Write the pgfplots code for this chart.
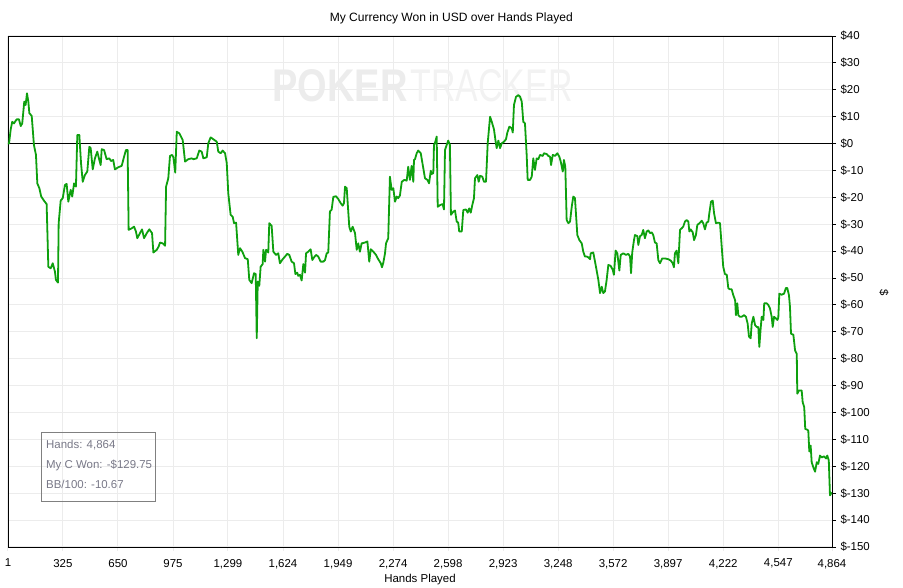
\documentclass[border=0pt]{standalone}
\usepackage{pgfplots}
\usepackage{pgfplotstable}
\pgfplotsset{compat=1.18}
\usepackage{fontspec}
\setmainfont{Liberation Sans}
\definecolor{pgreen}{RGB}{14,160,14}
\definecolor{gridc}{RGB}{236,236,236}
\definecolor{boxgray}{RGB}{128,128,128}
\definecolor{txtgray}{RGB}{120,120,135}
\definecolor{wm1}{RGB}{236,236,236}
\definecolor{wm2}{RGB}{242,242,242}

\pgfplotstableread{
h v
1 0
7 0
17 5.3
26 8.1
36 7.5
52 9
66 9
76 6.5
85 7.5
97 15.6
105 14.3
113 18.7
121 15.6
127 11.3
141 10.3
154 -0.5
166 -4.2
174 -14.8
186 -16.6
197 -19.7
213 -21.2
229 -22.5
239 -45.8
253 -46.4
265 -44.5
278 -47.6
284 -50.7
296 -51.7
300 -29.6
312 -21.2
324 -20.3
337 -15.4
347 -15
357 -21.6
371 -17.2
380 -19.7
391 -14.8
402 -16
410 3.2
422 3.2
432 -7.3
442 -14.2
455 -11.7
469 -10.4
481 -1.2
489 -1.7
501 -9.6
514 -5.5
528 -3
540 -6.1
548 -8
554 -2.1
568 -2.4
583 -5.8
599 -5.5
609 -6.5
622 -6.1
632 -9.6
652 -8.8
672 -8.3
686 -4.9
697 -2.4
707 -2.4
713 -32.1
731 -31.5
745 -30.9
756 -32.7
764 -35.2
780 -33.3
792 -31.9
804 -35.2
820 -33.3
835 -31.9
851 -33.3
859 -40.5
879 -39.5
890 -38.3
898 -36.8
914 -37.1
928 -38
934 -16
947 -12.9
957 -4.6
969 -4.2
977 -5.1
988 -10.8
997 4.4
1012 3.8
1032 1.3
1046 -6.7
1065 -5.8
1085 -5.5
1095 -5.8
1115 -5.5
1130 -2.6
1144 -3
1154 -5.5
1174 -5.1
1183 0.1
1197 2.3
1213 1.6
1233 0.7
1242 -3
1256 -3.6
1268 -2.6
1282 -3.6
1292 -7.3
1301 -18.5
1315 -26.5
1327 -27.2
1335 -29.6
1347 -29.4
1360 -41.4
1370 -38.9
1384 -40.2
1400 -42.6
1416 -43
1425 -50.7
1439 -51.9
1453 -48.2
1463 -48.5
1469 -72.4
1475 -51.3
1484 -52.9
1492 -45.8
1504 -44.8
1508 -39.5
1518 -43.9
1524 -39.5
1537 -40.5
1543 -29.6
1557 -30.6
1567 -40.2
1583 -41.4
1596 -40.8
1606 -44.5
1622 -43
1636 -42
1649 -41
1661 -41.4
1675 -43.9
1689 -44.5
1697 -48.5
1708 -48
1714 -49.2
1724 -48.8
1734 -50.9
1744 -44.8
1754 -48
1760 -40.8
1773 -40.2
1787 -39.3
1797 -43.3
1807 -42.3
1819 -41.4
1832 -42
1846 -43.9
1862 -43.9
1872 -43.3
1882 -40.8
1891 -40.5
1901 -25.2
1911 -24.6
1921 -19.8
1937 -19.6
1950 -20.6
1964 -22.1
1976 -23.1
1984 -22.1
1990 -16
2000 -16.6
2015 -30.9
2024 -32.7
2035 -30.9
2049 -33.3
2059 -39.5
2068 -37.1
2078 -40.2
2088 -37.1
2108 -36.8
2122 -36.4
2133 -43.9
2142 -39.3
2157 -40.2
2173 -41.4
2186 -43
2201 -44.5
2208 -46
2216 -44.3
2226 -40.8
2232 -37.1
2245 -35.2
2255 -12.3
2265 -17.2
2275 -16.6
2285 -21.6
2295 -19.7
2304 -20.3
2314 -19.3
2325 -14.2
2340 -13.5
2354 -13.8
2363 -8.6
2373 -13.5
2383 -8.3
2393 -14.2
2397 -6.1
2403 -5.8
2413 -3.6
2422 -2.6
2437 -3.6
2452 -9.2
2462 -12.9
2476 -13.5
2486 -14.8
2496 -10.1
2501 -11.3
2511 -11
2515 -0.5
2521 0.3
2531 2.6
2537 -23.5
2550 -22.9
2566 -22.5
2574 -24.5
2580 -2.4
2590 -0.5
2599 1.1
2609 -0.5
2615 -26.5
2629 -25.3
2639 -24.9
2649 -29
2658 -29.4
2664 -32.7
2679 -32.7
2688 -24.7
2704 -24.5
2714 -25.7
2723 -24.1
2732 -25.7
2741 -22.9
2751 -20.3
2757 -12.9
2771 -11.7
2779 -14.2
2787 -12
2800 -12.3
2810 -14.2
2822 -14.2
2832 0.1
2846 10
2856 8.1
2869 5.3
2879 0.7
2885 -1.7
2895 1.1
2905 -1.7
2915 0.1
2928 0.7
2940 1.6
2948 4.1
2960 6.3
2974 5.7
2980 4.1
2987 14.3
2999 17.4
3013 18
3023 17.4
3033 15.6
3042 8.1
3052 7.5
3062 -4.2
3068 -13.5
3082 -13.5
3092 -12.3
3101 -5.5
3111 -9.8
3121 -5.5
3131 -5.8
3141 -4.2
3157 -4.6
3164 -3.6
3180 -3.9
3190 -4.6
3200 -4.9
3206 -8
3216 -4.2
3229 -4.6
3243 -3.6
3255 -4.9
3263 -6.7
3275 -10.4
3282 -6.1
3290 -8.6
3298 -28.4
3308 -29.6
3318 -29
3328 -23.5
3337 -19.7
3347 -20.3
3361 -34
3373 -35.9
3387 -37.1
3396 -40.2
3406 -42
3416 -42
3426 -42.3
3436 -43
3440 -40.8
3455 -40.5
3471 -45.8
3485 -50.7
3495 -55.6
3505 -53.2
3514 -55.6
3524 -55
3534 -50.7
3544 -45.1
3558 -45.5
3570 -47
3577 -48.8
3587 -39.8
3597 -40.8
3609 -47.2
3617 -41.4
3632 -40.8
3648 -41.4
3662 -41
3672 -42
3678 -48.2
3685 -40.5
3695 -36
3701 -34
3715 -34.4
3721 -37.7
3731 -34.4
3741 -34
3750 -32.1
3760 -35.2
3770 -32.7
3780 -32.3
3790 -33.3
3800 -33
3809 -34
3819 -36.8
3829 -37.1
3839 -43.3
3849 -44.5
3862 -42.7
3878 -42.7
3898 -43
3912 -43.5
3924 -44.5
3931 -46
3937 -40.8
3947 -39.8
3957 -44.5
3967 -32.1
3977 -31.5
3986 -30.9
3996 -29
4006 -28.4
4016 -29
4022 -32.7
4030 -31.9
4042 -33
4050 -35.9
4061 -34
4069 -30.3
4085 -29.4
4095 -28.7
4104 -29.6
4114 -31.9
4124 -29.4
4134 -29
4140 -25.9
4150 -21.6
4160 -21.2
4168 -25.9
4179 -29.6
4193 -29.4
4203 -29.6
4213 -38.3
4222 -45.8
4232 -48.5
4243 -48.8
4252 -53.8
4262 -54.2
4272 -54.2
4281 -56.3
4292 -58.2
4297 -63.8
4305 -59.4
4311 -63.8
4321 -64.4
4331 -64.4
4345 -63.8
4356 -64.4
4366 -66.9
4374 -71.8
4384 -72.4
4390 -66.9
4400 -64.4
4410 -67.5
4420 -68.2
4429 -68.2
4435 -75.6
4443 -68.7
4449 -64.4
4459 -65.6
4464 -59.4
4479 -59.4
4488 -60
4498 -61.3
4508 -64.4
4514 -68.2
4522 -64.4
4533 -65
4541 -65.6
4547 -64.8
4553 -55.8
4567 -56.2
4581 -55.8
4592 -53.7
4600 -53.7
4610 -56.4
4616 -60.8
4622 -70.7
4636 -71.1
4646 -76.9
4656 -78.2
4659 -93
4669 -91.8
4685 -91.8
4691 -96.2
4700 -98
4706 -106.1
4715 -106.3
4724 -106.7
4730 -114.5
4738 -112.3
4744 -118.5
4754 -120.4
4764 -122
4774 -118.5
4783 -119.1
4793 -116
4803 -116.7
4817 -116.3
4829 -117.1
4836 -116
4845 -117.8
4852 -130.8
4858 -130.2
4864 -129.75
}\wondata

\pgfplotstableread{
h v
1 0
4864 0
}\zerodata

\begin{document}
\begin{tikzpicture}
\begin{axis}[
  at={(0,0)}, anchor=south west,
  scale only axis, width=824bp, height=511bp,
  xmin=1, xmax=4864, ymin=-150, ymax=40,
  axis line style={black, line width=0.9bp},
  xtick={1,325,650,975,1299,1624,1949,2274,2598,2923,3248,3572,3897,4222,4547,4864},
  xticklabels={1,325,650,975,{1,299},{1,624},{1,949},{2,274},{2,598},{2,923},{3,248},{3,572},{3,897},{4,222},{4,547},{4,864}},
  ytick={-150,-140,...,40},
  yticklabel={\$\pgfmathprintnumber[assume math mode=true]{\tick}},
  xtick pos=bottom, ytick pos=right,
  yticklabel pos=right,
  tick align=outside, major tick length=4bp,
  x tick style={gridc, line width=1bp},
  y tick style={black, line width=0.9bp},
  grid=major, major grid style={gridc, line width=1bp},
  tick label style={font=\fontsize{11.5}{13}\selectfont, text=black},
  /pgf/number format/assume math mode=true,
  xticklabel style={yshift=-4.5bp},
  yticklabel style={xshift=1bp},
  title={My Currency Won in USD over Hands Played},
  title style={at={(axis description cs:0.538,1)}, anchor=center, yshift=12bp, font=\fontsize{12.1}{14}\selectfont},
  xlabel={Hands Played},
  xlabel style={at={(axis description cs:0.5,-0.063)}, anchor=center, font=\fontsize{11.5}{13}\selectfont},
  ylabel={\$},
  ylabel style={at={(axis description cs:1.063,0.497)}, anchor=center, rotate=180, font=\fontsize{11.5}{13}\selectfont},
]
\node[text=wm1, font=\bfseries\fontsize{46}{46}\selectfont, xscale=0.83, anchor=center] at (axis description cs:0.403,0.903) {POKER};
\node[text=wm2, font=\fontsize{46}{46}\selectfont, xscale=0.74, anchor=center] at (axis description cs:0.587,0.903) {TRACKER};
\addplot[black, line width=0.9bp] table[x=h, y=v] {\zerodata};
\addplot[pgreen, line width=1.8bp, line join=round] table[x=h, y=v] {\wondata};
\node[draw=boxgray, line width=0.9bp, anchor=north west, minimum width=114bp, minimum height=69bp, inner sep=0pt] at (axis description cs:0.040,0.225) {};
\node[anchor=west, text=txtgray, font=\fontsize{11.5}{13}\selectfont, inner sep=0pt] at (axis description cs:0.0461,0.1996) {Hands: 4,864};
\node[anchor=west, text=txtgray, font=\fontsize{11.5}{13}\selectfont, inner sep=0pt] at (axis description cs:0.0461,0.1605) {My C Won: -\$129.75};
\node[anchor=west, text=txtgray, font=\fontsize{11.5}{13}\selectfont, inner sep=0pt] at (axis description cs:0.0461,0.1233) {BB/100: -10.67};
\end{axis}
\path (-8bp,-40bp) rectangle (895bp,547bp);
\end{tikzpicture}
\end{document}
